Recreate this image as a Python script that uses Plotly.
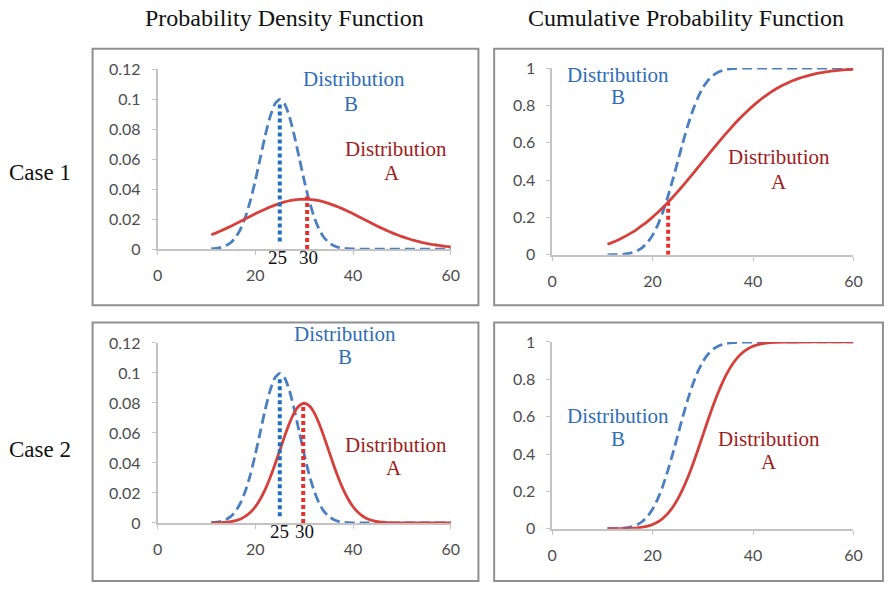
import plotly.graph_objects as go

W, H = 888, 591

# ---------------- data ----------------
X = [11, 12, 13, 14, 15, 16, 17, 18, 19, 20, 21, 22, 23, 24, 25, 26, 27, 28, 29, 30,
     31, 32, 33, 34, 35, 36, 37, 38, 39, 40, 41, 42, 43, 44, 45, 46, 47, 48, 49, 50,
     51, 52, 53, 54, 55, 56, 57, 58, 59, 60]

# Distribution B density (same in both cases)
pdf_b = [0.0002, 0.0005, 0.0011, 0.0023, 0.0044, 0.0079, 0.0135, 0.0216, 0.0324, 0.0457,
         0.0605, 0.0753, 0.0880, 0.0967, 0.0997, 0.0967, 0.0880, 0.0753, 0.0605, 0.0457,
         0.0324, 0.0216, 0.0135, 0.0079, 0.0044, 0.0023, 0.0011, 0.0005, 0.0002, 0.0001,
         0, 0, 0, 0, 0, 0, 0, 0, 0, 0,
         0, 0, 0, 0, 0, 0, 0, 0, 0, 0]

# Distribution A density, case 1 (wide)
pdf_a1 = [0.0095, 0.0108, 0.0122, 0.0137, 0.0152, 0.0168, 0.0185, 0.0202, 0.0218, 0.0235,
          0.0251, 0.0266, 0.0280, 0.0293, 0.0305, 0.0315, 0.0322, 0.0328, 0.0331, 0.0332,
          0.0331, 0.0328, 0.0322, 0.0315, 0.0305, 0.0293, 0.0280, 0.0266, 0.0251, 0.0235,
          0.0218, 0.0202, 0.0185, 0.0168, 0.0152, 0.0137, 0.0122, 0.0108, 0.0095, 0.0083,
          0.0072, 0.0062, 0.0053, 0.0045, 0.0038, 0.0032, 0.0027, 0.0022, 0.0018, 0.0015]

# Distribution A density, case 2 (narrow)
pdf_a2 = [0.0001, 0.0001, 0.0002, 0.0005, 0.0009, 0.0016, 0.0027, 0.0045, 0.0071, 0.0108,
          0.0158, 0.0222, 0.0300, 0.0388, 0.0484, 0.0579, 0.0666, 0.0737, 0.0782, 0.0798,
          0.0782, 0.0737, 0.0666, 0.0579, 0.0484, 0.0388, 0.0300, 0.0222, 0.0158, 0.0108,
          0.0071, 0.0045, 0.0027, 0.0016, 0.0009, 0.0005, 0.0002, 0.0001, 0.0001, 0,
          0, 0, 0, 0, 0, 0, 0, 0, 0, 0]

# Distribution B cumulative (same in both cases)
cdf_b = [0.0002, 0.0006, 0.0013, 0.0030, 0.0062, 0.0122, 0.0228, 0.0401, 0.0668, 0.1056,
         0.1587, 0.2266, 0.3085, 0.4013, 0.5000, 0.5987, 0.6915, 0.7734, 0.8413, 0.8944,
         0.9332, 0.9599, 0.9772, 0.9878, 0.9938, 0.9970, 0.9987, 0.9994, 0.9998, 1,
         1, 1, 1, 1, 1, 1, 1, 1, 1, 1,
         1, 1, 1, 1, 1, 1, 1, 1, 1, 1]

# Distribution A cumulative, case 1
cdf_a1 = [0.0567, 0.0668, 0.0783, 0.0912, 0.1056, 0.1217, 0.1393, 0.1587, 0.1797, 0.2023,
          0.2266, 0.2525, 0.2798, 0.3085, 0.3385, 0.3694, 0.4013, 0.4338, 0.4668, 0.5000,
          0.5332, 0.5662, 0.5987, 0.6306, 0.6615, 0.6915, 0.7202, 0.7475, 0.7734, 0.7977,
          0.8203, 0.8413, 0.8607, 0.8783, 0.8944, 0.9088, 0.9217, 0.9332, 0.9433, 0.9522,
          0.9599, 0.9666, 0.9724, 0.9772, 0.9814, 0.9849, 0.9878, 0.9902, 0.9922, 0.9938]

# Distribution A cumulative, case 2
cdf_a2 = [0.0001, 0.0002, 0.0003, 0.0007, 0.0013, 0.0026, 0.0047, 0.0082, 0.0139, 0.0228,
          0.0359, 0.0548, 0.0808, 0.1151, 0.1587, 0.2119, 0.2743, 0.3446, 0.4207, 0.5000,
          0.5793, 0.6554, 0.7257, 0.7881, 0.8413, 0.8849, 0.9192, 0.9452, 0.9641, 0.9772,
          0.9861, 0.9918, 0.9953, 0.9974, 0.9987, 0.9993, 0.9997, 0.9998, 0.9999, 1,
          1, 1, 1, 1, 1, 1, 1, 1, 1, 1]

# marker lines (x position, bottom, top)
marker_b1 = [25, 0.005, 0.097]
marker_a1 = [30.6, 0.0, 0.035]
marker_b2 = [25, 0.0045, 0.096]
marker_a2 = [29.8, 0.0, 0.080]
marker_cdf1 = [23.1, 0.0, 0.28]

x_ticks = [0, 20, 40, 60]
x_ticktext = ["0", "20", "40", "60"]
pdf_ticks = [0, 0.02, 0.04, 0.06, 0.08, 0.1, 0.12]
pdf_ticktext = ["0", "0.02", "0.04", "0.06", "0.08", "0.1", "0.12"]
cdf_ticks = [0, 0.2, 0.4, 0.6, 0.8, 1]
cdf_ticktext = ["0", "0.2", "0.4", "0.6", "0.8", "1"]

col_titles = ["Probability Density Function", "Cumulative Probability Function"]
row_titles = ["Case 1", "Case 2"]

# ---------------- styles ----------------
BLUE_LINE = "#4a7fc1"
RED_LINE = "#d6403b"
BLUE_DOT = "#1f6fc0"
RED_DOT = "#e8302b"
BLUE_TXT = "#2f6db8"
RED_TXT = "#9e1d1d"
SERIF = "Liberation Serif"
TEXT_LIFT = 8  # raise serif labels so the visible glyphs sit where the reference has them


def px_x(p):
    return p / W


def px_y(p):
    return 1 - p / H


fig = go.Figure()

# panel plot areas in pixels: (left, right, top, bottom)
areas = {
    1: (155, 453, 61, 247),
    2: (556, 862, 60, 253),
    3: (155, 453, 344, 530),
    4: (556, 862, 343, 536),
}
yranges = {1: [0, 0.12], 2: [0, 1], 3: [0, 0.12], 4: [0, 1]}
xrange_ = [0, 60]


def ax_names(i):
    s = "" if i == 1 else str(i)
    return "x" + s, "y" + s, "xaxis" + s, "yaxis" + s


def data_to_paper(i, x, y):
    l, r, t, b = areas[i]
    y0, y1 = yranges[i]
    px = l + (x - xrange_[0]) / (xrange_[1] - xrange_[0]) * (r - l)
    py = b - (y - y0) / (y1 - y0) * (b - t)
    return px_x(px), px_y(py)


def add_curve(i, y, color, dash):
    xr, yr, _, _ = ax_names(i)
    fig.add_trace(go.Scatter(x=X, y=y, mode="lines", xaxis=xr, yaxis=yr,
                             line=dict(color=color, width=2.8, dash=dash, shape="spline",
                                       smoothing=0.6),
                             cliponaxis=False, hoverinfo="skip", showlegend=False))


def add_marker(i, m, color):
    xr, yr, _, _ = ax_names(i)
    fig.add_trace(go.Scatter(x=[m[0], m[0]], y=[m[1], m[2]], mode="lines", xaxis=xr, yaxis=yr,
                             line=dict(color=color, width=4, dash="4px,3px"),
                             cliponaxis=False, hoverinfo="skip", showlegend=False))


add_curve(1, pdf_b, BLUE_LINE, "10px,5px")
add_curve(1, pdf_a1, RED_LINE, "solid")
add_marker(1, marker_b1, BLUE_DOT)
add_marker(1, marker_a1, RED_DOT)

add_curve(2, cdf_b, BLUE_LINE, "10px,5px")
add_curve(2, cdf_a1, RED_LINE, "solid")
add_marker(2, marker_cdf1, RED_DOT)

add_curve(3, pdf_b, BLUE_LINE, "10px,5px")
add_curve(3, pdf_a2, RED_LINE, "solid")
add_marker(3, marker_b2, BLUE_DOT)
add_marker(3, marker_a2, RED_DOT)

add_curve(4, cdf_b, BLUE_LINE, "10px,5px")
add_curve(4, cdf_a2, RED_LINE, "solid")

tickfont = dict(family="Lato", size=16, color="#4d4d4d")
layout_axes = {}
for i, (l, r, t, b) in areas.items():
    xr, yr, xk, yk = ax_names(i)
    is_pdf = i in (1, 3)
    layout_axes[xk] = dict(domain=[px_x(l), px_x(r)], anchor=yr, range=xrange_,
                           tickvals=x_ticks, ticktext=x_ticktext, showgrid=False,
                           zeroline=False, showline=True, linecolor="#c3c3c3", linewidth=1.5,
                           ticks="outside", ticklen=4, tickcolor="#c3c3c3", tickwidth=1,
                           tickfont=tickfont, ticklabelstandoff=7, fixedrange=True)
    layout_axes[yk] = dict(domain=[px_y(b), px_y(t)], anchor=xr, range=yranges[i],
                           tickvals=pdf_ticks if is_pdf else cdf_ticks,
                           ticktext=pdf_ticktext if is_pdf else cdf_ticktext,
                           showgrid=False, zeroline=False, showline=True, linecolor="#c3c3c3",
                           linewidth=1.5, ticks="outside", ticklen=4, tickcolor="#c3c3c3",
                           tickwidth=1, tickfont=tickfont, ticklabelstandoff=8, fixedrange=True)

annotations = []


def text_ann(i, x, y, text, color, size=21, lift=TEXT_LIFT):
    # placed through the panel's own x/y scale, expressed in paper units so labels
    # outside the plotted range still show
    xp, yp = data_to_paper(i, x, y)
    annotations.append(dict(x=xp, y=yp, xref="paper", yref="paper", text=text, showarrow=False,
                            xanchor="center", yanchor="middle", yshift=lift,
                            font=dict(family=SERIF, size=size, color=color)))


# Distribution labels (data coordinates)
text_ann(1, 40.2, 0.1077, "Distribution", BLUE_TXT)
text_ann(1, 39.6, 0.0916, "B", BLUE_TXT)
text_ann(1, 48.7, 0.0613, "Distribution", RED_TXT)
text_ann(1, 48.0, 0.0452, "A", RED_TXT)
text_ann(1, 24.5, -0.0071, "25", "#111111", 19, 2)
text_ann(1, 30.9, -0.0071, "30", "#111111", 19, 2)

text_ann(2, 13.1, 0.922, "Distribution", BLUE_TXT)
text_ann(2, 13.1, 0.803, "B", BLUE_TXT)
text_ann(2, 45.1, 0.482, "Distribution", RED_TXT)
text_ann(2, 45.1, 0.347, "A", RED_TXT)

text_ann(3, 38.3, 0.1206, "Distribution", BLUE_TXT)
text_ann(3, 38.3, 0.1050, "B", BLUE_TXT)
text_ann(3, 48.7, 0.0465, "Distribution", RED_TXT)
text_ann(3, 48.4, 0.0316, "A", RED_TXT)
text_ann(3, 25.0, -0.0071, "25", "#111111", 19, 2)
text_ann(3, 30.0, -0.0071, "30", "#111111", 19, 2)

text_ann(4, 13.1, 0.560, "Distribution", BLUE_TXT)
text_ann(4, 13.1, 0.440, "B", BLUE_TXT)
text_ann(4, 43.1, 0.440, "Distribution", RED_TXT)
text_ann(4, 43.1, 0.316, "A", RED_TXT)

# column and row titles
for cx, txt in zip([284, 692], col_titles):
    annotations.append(dict(x=px_x(cx), y=px_y(17), xref="paper", yref="paper", text=txt,
                            showarrow=False, xanchor="center", yanchor="middle",
                            yshift=TEXT_LIFT,
                            font=dict(family=SERIF, size=24, color="#111111")))
for cy, txt in zip([174, 460], row_titles):
    annotations.append(dict(x=px_x(36), y=px_y(cy), xref="paper", yref="paper", text=txt,
                            showarrow=False, xanchor="center", yanchor="middle",
                            yshift=TEXT_LIFT - 2,
                            font=dict(family=SERIF, size=23, color="#111111")))

# frames around each panel (pixels: left, right, top, bottom)
frames = [(89, 481, 40, 305), (497, 892, 40, 305), (89, 481, 323, 590), (497, 892, 323, 590)]
shapes = [dict(type="rect", xref="paper", yref="paper", x0=px_x(l), x1=px_x(r),
               y0=px_y(b), y1=px_y(t), line=dict(color="#8f8f8f", width=2), layer="below")
          for (l, r, t, b) in frames]

fig.update_layout(width=W, height=H, autosize=False, margin=dict(l=0, r=0, t=0, b=0),
                  paper_bgcolor="white", plot_bgcolor="white", showlegend=False,
                  annotations=annotations, shapes=shapes, **layout_axes)

fig.write_html("out.html", config={"displayModeBar": False})
